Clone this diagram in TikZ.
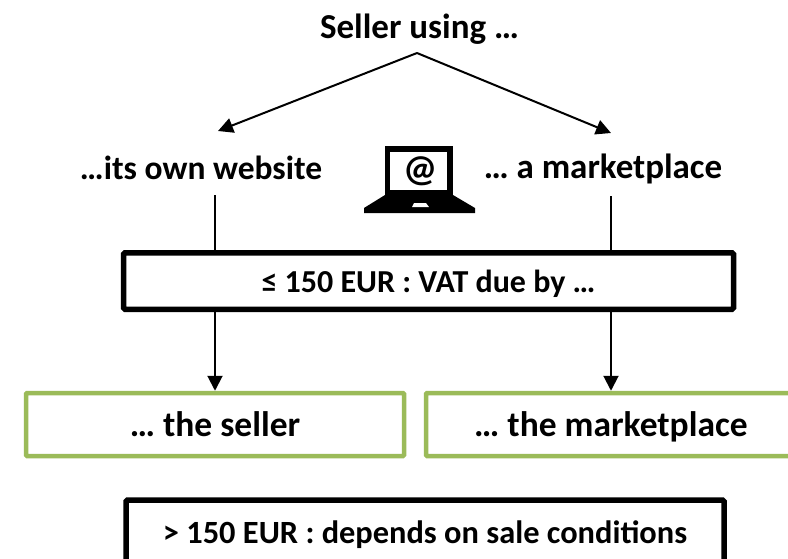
\documentclass[tikz,border=0pt]{standalone}
\usepackage{fontspec}
\setmainfont{Carlito}
\usetikzlibrary{arrows.meta, calc, positioning}
\definecolor{boxgreen}{RGB}{155,187,89}
\tikzset{
  heading/.style={font=\fontsize{35}{40}\selectfont\bfseries, inner sep=0pt},
  flowline/.style={line width=2pt, -{Triangle[length=15pt, width=15pt]}},
  plainline/.style={line width=2pt},
  blackbox/.style={draw=black, line width=5.5pt, rounded corners=1.5pt, minimum height=56.5pt, inner sep=0pt},
  greenbox/.style={draw=boxgreen, line width=4.5pt, rounded corners=1pt, minimum height=63pt, inner sep=0pt, text depth=0pt, font=\fontsize{35.5}{40}\selectfont\bfseries}
}
\begin{document}
\begin{tikzpicture}[x=1pt, y=-1pt]
	\useasboundingbox (0,0) rectangle (788,558);

	% Headings
	\node[heading] (seller) at (419.5,29) {Seller using …};
	\node[heading, font=\fontsize{33.5}{40}\selectfont\bfseries] (own) at (201,168) {…its own website};
	\node[heading] (market) at (603,169) {… a marketplace};

	% Boxes
	\node[blackbox, minimum width=610pt, text depth=0pt, font=\fontsize{32}{36}\selectfont\bfseries] (vat) at (428.5,281) {≤ 150 EUR : VAT due by …};
	\node[greenbox, minimum width=378pt] (theseller) at (215,424.5) {… the seller};
	\node[greenbox, minimum width=370pt] (theplace) at (611,424.5) {… the marketplace};
	\node[blackbox, minimum width=598pt, minimum height=70pt, font=\fontsize{32.4}{36}\selectfont\bfseries] (high) at (425,535) {> 150 EUR : depends on sale conditions};

	% Connector ends
	\coordinate (apex) at (417,53);
	\coordinate (ownend) at (218,131);
	\coordinate (marketend) at (611,133);
	\coordinate (ownfoot) at (215,195);
	\coordinate (marketfoot) at (611,196);

	% Arrows
	\draw[flowline] (apex) -- (ownend);
	\draw[flowline] (apex) -- (marketend);
	\draw[plainline] (ownfoot) -- (ownfoot |- vat.north);
	\draw[plainline] (marketfoot) -- (marketfoot |- vat.north);
	\draw[flowline] (vat.south -| ownfoot) -- (theseller.north -| ownfoot);
	\draw[flowline] (vat.south -| marketfoot) -- (theplace.north -| marketfoot);

	% Laptop
	\fill[black] (385,146) rectangle (453,196);
	\fill[white] (390,152) rectangle (447,190);
	\fill[black] (385,195) -- (453,195) -- (475,208) -- (475,213) -- (364,213) -- (364,208) -- cycle;
	\fill[white] (412,207) -- (414,203) -- (426,203) -- (429,207) -- cycle;
	\node[font=\fontsize{38}{40}\selectfont\bfseries, inner sep=0pt] (at) at (421,171) {@};
\end{tikzpicture}
\end{document}
